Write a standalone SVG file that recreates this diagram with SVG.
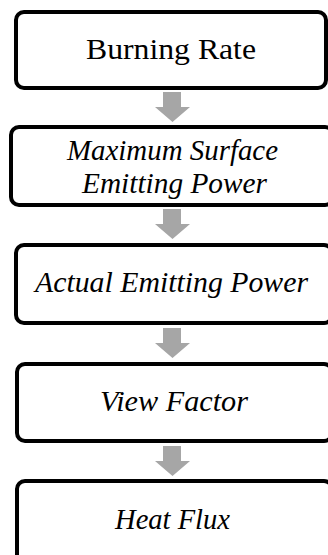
<svg xmlns="http://www.w3.org/2000/svg" width="328" height="555" viewBox="0 0 328 555">
<style>
.box{fill:#ffffff;stroke:#000000;stroke-width:4}
.arr{fill:#a6a6a6;stroke:none}
.t{font-family:"Liberation Serif","Times New Roman",serif;font-size:29px;fill:#000000;text-anchor:middle}
.i{font-style:italic}
</style>
<rect width="328" height="555" fill="#ffffff"/>
<g id="connectors">
<polygon class="arr" points="163,92 181,92 181,107 190,107 172.5,122 155,107 163,107"/>
<polygon class="arr" points="163,209 181,209 181,224 190,224 172.5,239 155,224 163,224"/>
<polygon class="arr" points="163,328 181,328 181,343 190,343 172.5,358 155,343 163,343"/>
<polygon class="arr" points="163,446 181,446 181,461 190,461 172.5,476 155,461 163,461"/>
</g>
<g id="node1">
<rect class="box" x="16" y="12" width="310" height="76" rx="8"/>
<text class="t" x="171" y="59" textLength="170" lengthAdjust="spacingAndGlyphs">Burning Rate</text>
</g>
<g id="node2">
<rect class="box" x="11" y="127" width="322" height="78" rx="8"/>
<text class="t i" x="172.5" y="160" textLength="211" lengthAdjust="spacingAndGlyphs">Maximum Surface</text>
<text class="t i" x="174.5" y="193" textLength="185" lengthAdjust="spacingAndGlyphs">Emitting Power</text>
</g>
<g id="node3">
<rect class="box" x="16" y="245" width="316" height="78" rx="8"/>
<text class="t i" x="171.5" y="292" textLength="273" lengthAdjust="spacingAndGlyphs">Actual Emitting Power</text>
</g>
<g id="node4">
<rect class="box" x="17" y="364" width="315" height="77" rx="8"/>
<text class="t i" x="174" y="411" textLength="148" lengthAdjust="spacingAndGlyphs">View Factor</text>
</g>
<g id="node5">
<rect class="box" x="17" y="481" width="315" height="82" rx="8"/>
<text class="t i" x="172.5" y="529" textLength="115" lengthAdjust="spacingAndGlyphs">Heat Flux</text>
</g>
</svg>
